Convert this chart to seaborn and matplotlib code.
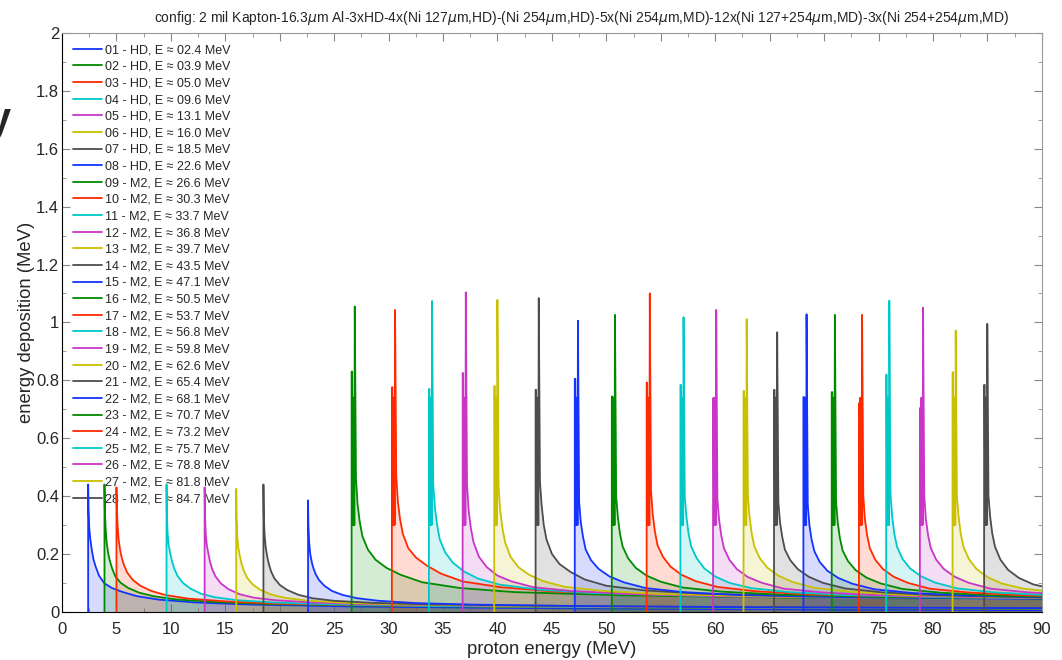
import matplotlib
matplotlib.use("Agg")
import matplotlib.pyplot as plt
import seaborn as sns
import pandas as pd
from matplotlib.ticker import MultipleLocator

# channel energies and detectors (from legend)
energies = [2.4, 3.9, 5.0, 9.6, 13.1, 16.0, 18.5, 22.6, 26.6, 30.3, 33.7, 36.8, 39.7, 43.5,
            47.1, 50.5, 53.7, 56.8, 59.8, 62.6, 65.4, 68.1, 70.7, 73.2, 75.7, 78.8, 81.8, 84.7]
detectors = ['HD'] * 8 + ['M2'] * 20
colors = ['#1433ff', '#008a00', '#ff2a00', '#00c8c8', '#c836c8', '#c8c000', '#4d4d4d']

# HD channels: peak height, then decay at offsets (MeV above threshold)
hd_peaks = [0.44, 0.44, 0.43, 0.44, 0.43, 0.425, 0.44, 0.385]
hd_offsets = [0.03, 0.1, 0.2, 0.35, 0.5, 0.7, 1.0, 1.5, 2.2, 3.2, 4.5, 6.5, 10, 15, 25, 40, 65, 90]
hd_tails = [
    [0.36, 0.29, 0.25, 0.21, 0.18, 0.155, 0.125, 0.098, 0.082, 0.068, 0.054, 0.042, 0.032, 0.025, 0.018, 0.013, 0.008, 0.005],
    [0.36, 0.29, 0.24, 0.20, 0.175, 0.15, 0.122, 0.10, 0.082, 0.066, 0.054, 0.043, 0.034, 0.027, 0.021, 0.016, 0.012, 0.010],
    [0.37, 0.30, 0.25, 0.21, 0.185, 0.16, 0.135, 0.11, 0.09, 0.072, 0.058, 0.046, 0.036, 0.028, 0.022, 0.017, 0.013, 0.011],
    [0.34, 0.27, 0.23, 0.20, 0.175, 0.15, 0.125, 0.10, 0.08, 0.062, 0.05, 0.04, 0.032, 0.026, 0.02, 0.016, 0.013, 0.011],
    [0.34, 0.27, 0.23, 0.20, 0.172, 0.147, 0.122, 0.098, 0.078, 0.061, 0.049, 0.04, 0.032, 0.026, 0.021, 0.017, 0.014, 0.012],
    [0.33, 0.26, 0.22, 0.19, 0.165, 0.142, 0.118, 0.095, 0.076, 0.06, 0.048, 0.039, 0.031, 0.026, 0.021, 0.017, 0.014, 0.012],
    [0.34, 0.27, 0.225, 0.19, 0.165, 0.14, 0.116, 0.093, 0.075, 0.059, 0.047, 0.038, 0.031, 0.026, 0.021, 0.017, 0.014, 0.012],
    [0.30, 0.24, 0.20, 0.17, 0.15, 0.13, 0.11, 0.09, 0.072, 0.058, 0.047, 0.038, 0.03, 0.025, 0.02, 0.016, 0.013, 0.011],
]

# M2 channels: first step, top of the spike, jagged part, then decay
m2_steps = [0.83, 0.776, 0.77, 0.825, 0.78, 0.767, 0.805, 0.744, 0.792, 0.784,
            0.738, 0.763, 0.767, 0.742, 0.759, 0.721, 0.819, 0.704, 0.828, 0.784]
m2_peaks = [1.055, 1.043, 1.074, 1.104, 1.078, 1.084, 1.006, 1.026, 1.10, 1.018,
            1.043, 1.011, 0.966, 1.028, 1.026, 1.026, 1.075, 1.051, 0.972, 0.995]
jag_offsets = [0.05, 0.09, 0.13, 0.17, 0.21, 0.25, 0.29]
jag_values = [0.30, 0.74, 0.30, 0.55, 0.30]
m2_offsets = [0.4, 0.55, 0.75, 1.0, 1.5, 2.2, 3.2, 4.5, 6.5, 10, 15, 25, 40, 65]
m2_tails = [
    [0.46, 0.37, 0.31, 0.26, 0.215, 0.18, 0.152, 0.128, 0.102, 0.082, 0.068, 0.057, 0.049, 0.043],
    [0.47, 0.38, 0.32, 0.27, 0.22, 0.188, 0.16, 0.132, 0.105, 0.085, 0.07, 0.058, 0.05, 0.044],
    [0.44, 0.36, 0.30, 0.25, 0.205, 0.17, 0.14, 0.115, 0.094, 0.077, 0.065, 0.055, 0.048, 0.043],
    [0.44, 0.35, 0.29, 0.24, 0.19, 0.155, 0.125, 0.105, 0.085, 0.072, 0.062, 0.053, 0.047, 0.042],
    [0.43, 0.35, 0.29, 0.24, 0.19, 0.155, 0.128, 0.106, 0.086, 0.072, 0.062, 0.053, 0.047, 0.042],
    [0.45, 0.37, 0.30, 0.25, 0.20, 0.165, 0.138, 0.112, 0.09, 0.074, 0.063, 0.054, 0.048, 0.043],
    [0.38, 0.31, 0.26, 0.215, 0.178, 0.148, 0.122, 0.102, 0.082, 0.068, 0.058, 0.05, 0.045, 0.04],
    [0.40, 0.33, 0.27, 0.225, 0.185, 0.152, 0.125, 0.104, 0.084, 0.07, 0.06, 0.051, 0.046, 0.041],
    [0.42, 0.34, 0.28, 0.23, 0.19, 0.156, 0.128, 0.106, 0.086, 0.071, 0.06, 0.052, 0.046, 0.041],
    [0.40, 0.33, 0.27, 0.225, 0.185, 0.15, 0.122, 0.10, 0.082, 0.068, 0.058, 0.05, 0.045, 0.04],
    [0.39, 0.32, 0.265, 0.22, 0.18, 0.147, 0.12, 0.10, 0.08, 0.067, 0.057, 0.05, 0.045, 0.04],
    [0.40, 0.33, 0.27, 0.225, 0.185, 0.152, 0.125, 0.103, 0.083, 0.069, 0.058, 0.05, 0.045, 0.04],
    [0.38, 0.31, 0.26, 0.215, 0.178, 0.147, 0.121, 0.10, 0.081, 0.067, 0.057, 0.049, 0.044, 0.04],
    [0.37, 0.30, 0.25, 0.21, 0.172, 0.142, 0.117, 0.097, 0.078, 0.065, 0.056, 0.049, 0.044, 0.04],
    [0.38, 0.31, 0.255, 0.212, 0.175, 0.144, 0.118, 0.098, 0.079, 0.066, 0.056, 0.049, 0.044, 0.04],
    [0.40, 0.32, 0.265, 0.22, 0.18, 0.148, 0.121, 0.10, 0.08, 0.067, 0.057, 0.05, 0.045, 0.04],
    [0.41, 0.33, 0.27, 0.225, 0.183, 0.15, 0.123, 0.101, 0.081, 0.067, 0.057, 0.05, 0.045, 0.04],
    [0.40, 0.32, 0.265, 0.22, 0.18, 0.148, 0.121, 0.10, 0.08, 0.067, 0.057, 0.05, 0.045, 0.04],
    [0.40, 0.33, 0.27, 0.225, 0.182, 0.148, 0.12, 0.098, 0.08, 0.066, 0.056, 0.049, 0.044, 0.04],
    [0.40, 0.33, 0.27, 0.225, 0.18, 0.145, 0.117, 0.095, 0.078, 0.065, 0.056, 0.049, 0.044, 0.04],
]

title = ('config: 2 mil Kapton-16.3$\\mu$m Al-3xHD-4x(Ni 127$\\mu$m,HD)-(Ni 254$\\mu$m,HD)'
         '-5x(Ni 254$\\mu$m,MD)-12x(Ni 127+254$\\mu$m,MD)-3x(Ni 254+254$\\mu$m,MD)')

sns.set_style('ticks')
plt.rcParams['font.family'] = ['Liberation Sans', 'DejaVu Sans']
plt.rcParams['mathtext.fontset'] = 'dejavusans'

labels = []
rows = []
for i, (e, det) in enumerate(zip(energies, detectors)):
    lab = '%02d - %s, E \u2248 %04.1f MeV' % (i + 1, det, e)
    labels.append(lab)
    xs = [e, e]
    if det == 'HD':
        ys = [0, hd_peaks[i]]
        xs += [e + o for o in hd_offsets]
        ys += hd_tails[i]
    else:
        j = i - 8
        ys = [0, m2_steps[j]]
        xs += [e + o for o in jag_offsets]
        ys += [m2_steps[j]] + jag_values + [m2_peaks[j]]
        xs += [e + o for o in m2_offsets]
        ys += m2_tails[j]
    for x, y in zip(xs, ys):
        rows.append({'energy': x, 'deposition': y, 'channel': lab})

df = pd.DataFrame(rows)
palette = [colors[i % 7] for i in range(len(energies))]

fig, ax = plt.subplots(figsize=(10.62, 6.6), dpi=100)
fig.subplots_adjust(left=0.0584, right=0.981, top=0.95, bottom=0.073)

for lab, c in zip(labels, palette):
    d = df[df['channel'] == lab]
    ax.fill_between(d['energy'], 0, d['deposition'], color=c, alpha=0.17, lw=0, zorder=2)

sns.lineplot(data=df, x='energy', y='deposition', hue='channel', palette=palette,
             sort=False, estimator=None, lw=1.3, ax=ax, zorder=3)

ax.set_xlim(0, 90)
ax.set_ylim(0, 2)
ax.xaxis.set_major_locator(MultipleLocator(5))
ax.xaxis.set_minor_locator(MultipleLocator(2.5))
ax.yaxis.set_minor_locator(MultipleLocator(0.1))
ax.set_yticks([0, 0.2, 0.4, 0.6, 0.8, 1, 1.2, 1.4, 1.6, 1.8, 2])
ax.set_yticklabels(['0', '0.2', '0.4', '0.6', '0.8', '1', '1.2', '1.4', '1.6', '1.8', '2'])
ax.tick_params(which='both', direction='in', top=True, right=True, color='#888888',
               labelsize=12)
ax.tick_params(axis='x', pad=7)
ax.tick_params(axis='y', pad=2)
ax.tick_params(which='major', length=6)
ax.tick_params(which='minor', length=3)
for s in ['top', 'right']:
    ax.spines[s].set_color('#999999')
for s in ['left', 'bottom']:
    ax.spines[s].set_color('black')

ax.set_xlabel('proton energy (MeV)', fontsize=13.3, labelpad=3)
ax.set_ylabel('energy deposition (MeV)', fontsize=13.3, labelpad=1)
ax.set_title(title, fontsize=10, pad=8, x=0.53)

handles, labs = ax.get_legend_handles_labels()
leg = ax.legend(handles, labs, loc='upper left', bbox_to_anchor=(0.0087, 0.985),
                frameon=False, fontsize=9, handlelength=2.3, handletextpad=0.25,
                labelspacing=0.37, borderaxespad=0, borderpad=0.2)
leg.set_zorder(1)

fig.text(-0.012, 0.80, 'y', fontsize=30, fontweight='bold')

fig.savefig('out.png', dpi=100)
